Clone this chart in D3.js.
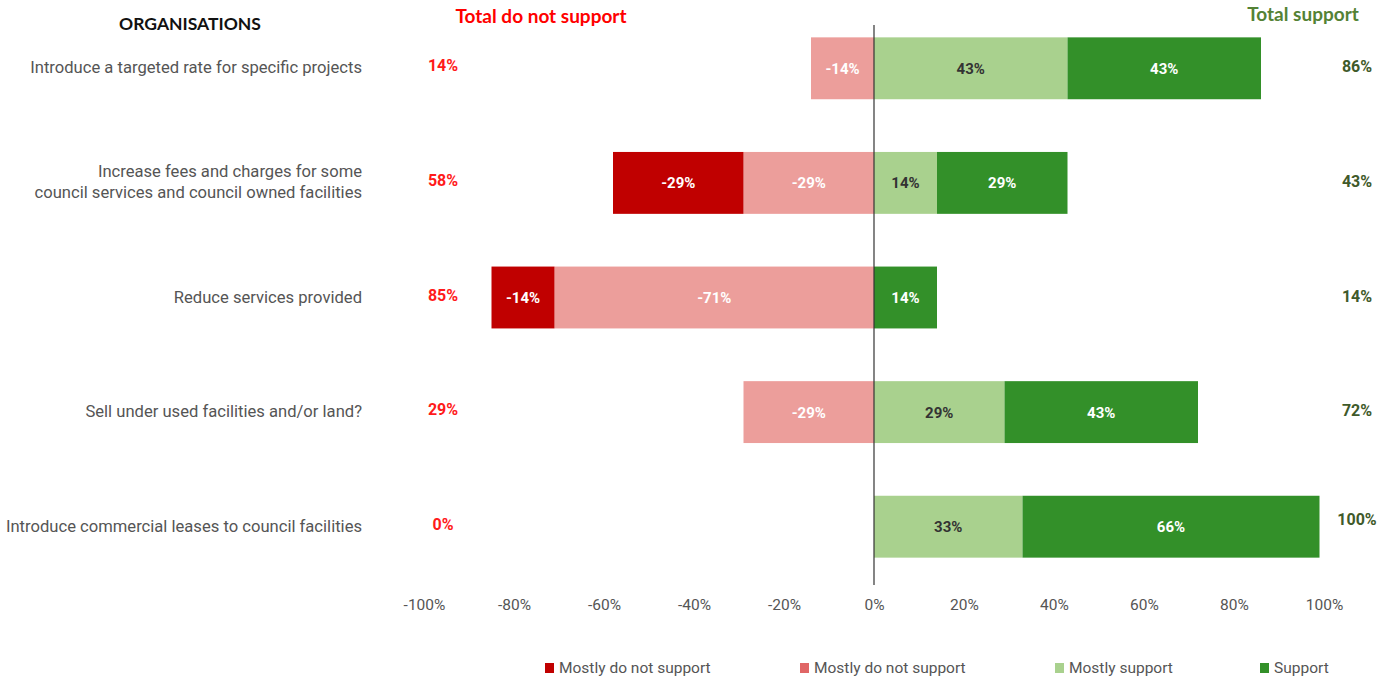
<!DOCTYPE html>
<html>
<head>
<meta charset="utf-8">
<script src="https://cdn.jsdelivr.net/npm/d3@7"></script>
<style>
  body { margin: 0; background: #fff; }
</style>
</head>
<body>
<svg id="chart" width="1395" height="680"></svg>
<script>
const categories = [
  ["Introduce a targeted rate for specific projects"],
  ["Increase fees and charges for some", "council services and council owned facilities"],
  ["Reduce services provided"],
  ["Sell under used facilities and/or land?"],
  ["Introduce commercial leases to council facilities"]
];
const strongNot = [0, 29, 14, 0, 0];
const mostlyNot = [14, 29, 71, 29, 0];
const mostlySupport = [43, 14, 0, 29, 33];
const support = [43, 29, 14, 43, 66];
const totalNot = [14, 58, 85, 29, 0];
const totalSupport = [86, 43, 14, 72, 100];
const ticks = [-100, -80, -60, -40, -20, 0, 20, 40, 60, 80, 100];
const legendLabels = ["Mostly do not support", "Mostly do not support", "Mostly support", "Support"];

const colors = {
  strongNot: "#c00000",
  mostlyNot: "#ec9e9b",
  mostlySupport: "#a9d18e",
  support: "#339029"
};
const legendColors = ["#c00000", "#e06666", "#a9d18e", "#339029"];

const svg = d3.select("#chart");
const x = d3.scaleLinear().domain([-100, 100]).range([424, 1324]);
const y = d3.scaleBand().domain(d3.range(categories.length)).range([11, 584]).paddingInner(0.46).paddingOuter(0.23);

const labelFont = "Roboto, sans-serif";
const headFont = "Lato, 'Open Sans', sans-serif";

// headers
svg.append("text").attr("x", 190).attr("y", 30).attr("text-anchor", "middle")
  .style("font-family", headFont).style("font-weight", "bold").style("font-size", "17.5px")
  .attr("fill", "#111").text("ORGANISATIONS");
svg.append("text").attr("x", 541).attr("y", 23).attr("text-anchor", "middle")
  .style("font-family", headFont).style("font-weight", "bold").style("font-size", "19px")
  .attr("fill", "#ff0000").text("Total do not support");
svg.append("text").attr("x", 1303).attr("y", 21).attr("text-anchor", "middle")
  .style("font-family", headFont).style("font-weight", "bold").style("font-size", "19px")
  .attr("fill", "#548235").text("Total support");

// build segments
const segments = [];
categories.forEach((c, i) => {
  segments.push({ i, x0: -mostlyNot[i], x1: 0, v: mostlyNot[i], neg: true, color: colors.mostlyNot, text: "#fff" });
  segments.push({ i, x0: -mostlyNot[i] - strongNot[i], x1: -mostlyNot[i], v: strongNot[i], neg: true, color: colors.strongNot, text: "#fff" });
  segments.push({ i, x0: 0, x1: mostlySupport[i], v: mostlySupport[i], neg: false, color: colors.mostlySupport, text: "#333" });
  segments.push({ i, x0: mostlySupport[i], x1: mostlySupport[i] + support[i], v: support[i], neg: false, color: colors.support, text: "#fff" });
});
const segs = segments.filter(d => d.v > 0);

const bars = svg.append("g");
bars.selectAll("rect").data(segs).join("rect")
  .attr("x", d => x(d.x0))
  .attr("width", d => x(d.x1) - x(d.x0))
  .attr("y", d => y(d.i))
  .attr("height", y.bandwidth())
  .attr("fill", d => d.color);

bars.selectAll("text").data(segs).join("text")
  .attr("x", d => (x(d.x0) + x(d.x1)) / 2)
  .attr("y", d => y(d.i) + y.bandwidth() / 2 + 5.5)
  .attr("text-anchor", "middle")
  .style("font-family", labelFont).style("font-weight", "bold").style("font-size", "15px")
  .attr("fill", d => d.text)
  .text(d => (d.neg ? "-" : "") + d.v + "%");

// zero line
svg.append("line").attr("x1", x(0)).attr("x2", x(0)).attr("y1", 25).attr("y2", 585)
  .attr("stroke", "#333").attr("stroke-width", 1.2);

// category labels
const cat = svg.append("g");
categories.forEach((lines, i) => {
  const cy = y(i) + y.bandwidth() / 2;
  const t = cat.append("text").attr("text-anchor", "end")
    .style("font-family", labelFont).style("font-size", "16.6px").attr("fill", "#555");
  lines.forEach((l, k) => {
    t.append("tspan").attr("x", 362)
      .attr("y", cy + 5 + (k - (lines.length - 1) / 2) * 21)
      .text(l);
  });
});

// totals
svg.append("g").selectAll("text").data(totalNot).join("text")
  .attr("x", 443).attr("y", (d, i) => y(i) + y.bandwidth() / 2 + 3)
  .attr("text-anchor", "middle")
  .style("font-family", labelFont).style("font-weight", "bold").style("font-size", "16px")
  .attr("fill", "#ff1a1a").text(d => d + "%");
svg.append("g").selectAll("text").data(totalSupport).join("text")
  .attr("x", 1357).attr("y", (d, i) => y(i) + y.bandwidth() / 2 + (d === 100 ? -2 : 4))
  .attr("text-anchor", "middle")
  .style("font-family", labelFont).style("font-weight", "bold").style("font-size", "16px")
  .attr("fill", "#3f5a2a").text(d => d + "%");

// x axis
const axis = svg.append("g").attr("transform", "translate(0,596)")
  .call(d3.axisBottom(x).tickValues(ticks).tickSize(0).tickFormat(d => d + "%"));
axis.select(".domain").remove();
axis.selectAll("text").style("font-family", labelFont).style("font-size", "15.5px").attr("fill", "#555");

// legend
const legendX = [545, 800, 1055, 1260];
const lg = svg.append("g").selectAll("g").data(legendLabels).join("g")
  .attr("transform", (d, i) => `translate(${legendX[i]},668)`);
lg.append("rect").attr("x", 0).attr("y", -5).attr("width", 9).attr("height", 10)
  .attr("fill", (d, i) => legendColors[i]);
lg.append("text").attr("x", 14).attr("y", 5)
  .style("font-family", labelFont).style("font-size", "15.5px").attr("fill", "#555")
  .text(d => d);
</script>
</body>
</html>
